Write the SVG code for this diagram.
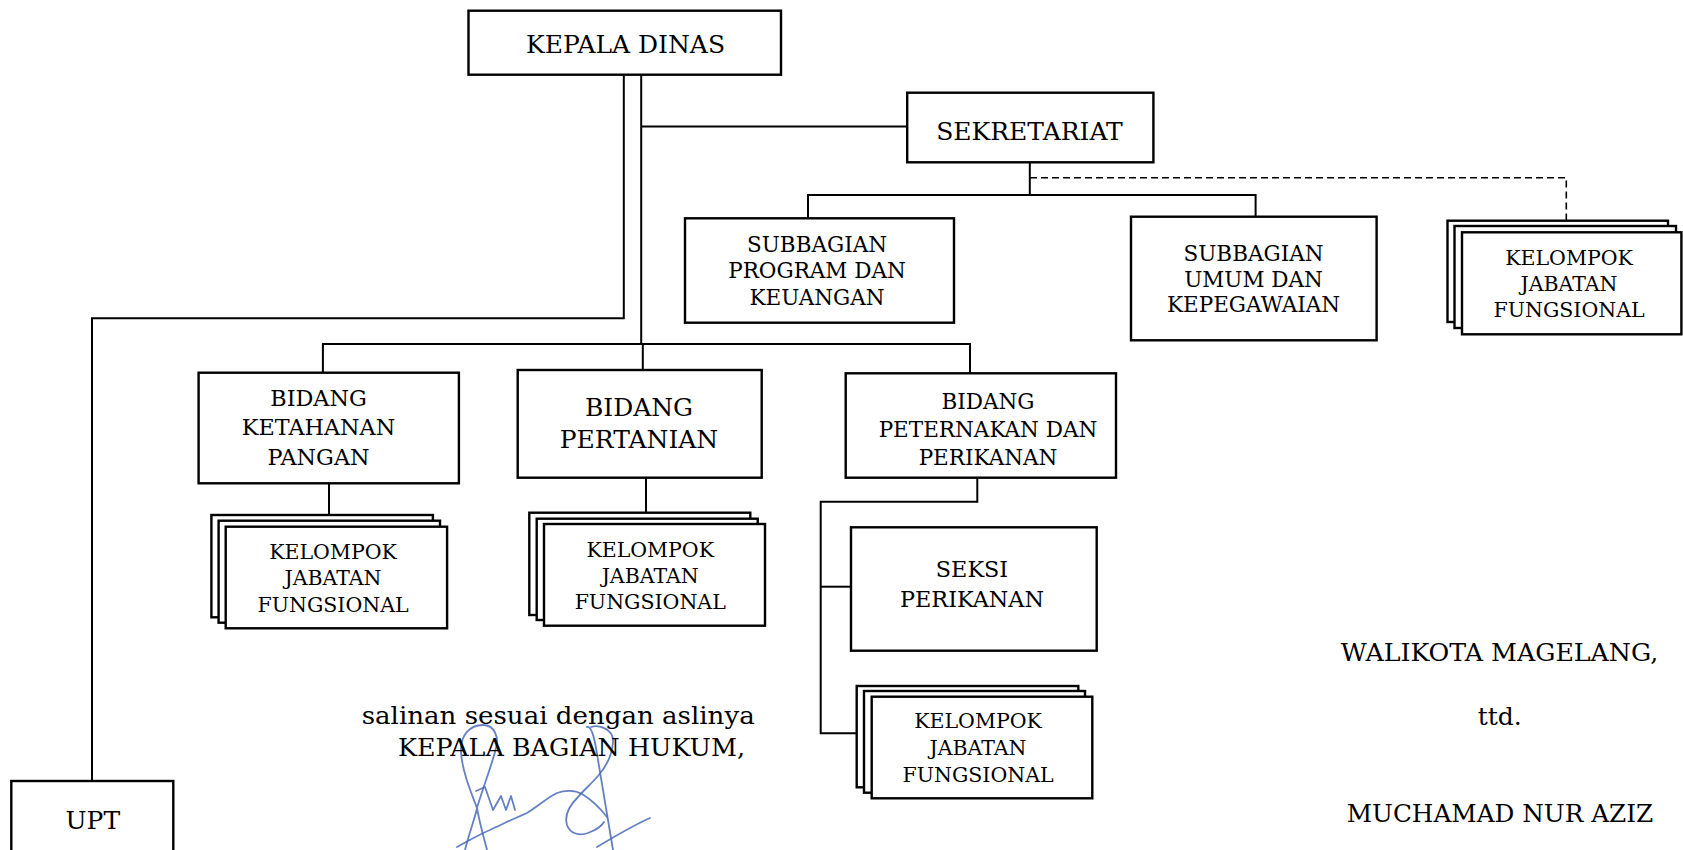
<svg xmlns="http://www.w3.org/2000/svg" width="1683" height="850" viewBox="0 0 1683 850">
<style>
.box{fill:#fff;stroke:#000;stroke-width:2.4}
.ln{fill:none;stroke:#000;stroke-width:2}
.dash{fill:none;stroke:#000;stroke-width:1.6;stroke-dasharray:7,4}
text{font-family:"DejaVu Serif","Liberation Serif",serif;fill:#000;text-anchor:middle}
.t24{font-size:25px}
.t22{font-size:22.3px}
.t21{font-size:21.5px}
.t20{font-size:20.5px}
.ft{font-size:25px;text-anchor:start}
.sig{fill:none;stroke:#4a6ab8;stroke-width:1.8;stroke-linecap:round;stroke-linejoin:round;opacity:0.85}
</style>
<rect width="1683" height="850" fill="#fff"/>
<g id="connectors">
<path class="ln" d="M623.8 74.7 V318.3 H92 V781"/>
<path class="ln" d="M641.2 74.7 V344"/>
<path class="ln" d="M641.2 126.5 H907"/>
<path class="ln" d="M1029.8 162.3 V195"/>
<path class="ln" d="M808 218.3 V195 H1255.6 V216.7"/>
<path class="dash" d="M1030 177.7 H1566.3 V220.7"/>
<path class="ln" d="M322.9 372.7 V344 H970 V373.3"/>
<path class="ln" d="M642.8 344 V370"/>
<path class="ln" d="M329 483.3 V515"/>
<path class="ln" d="M646 477.7 V512.7"/>
<path class="ln" d="M977.3 477.7 V501.7 H820.7 V733.3 H856.7"/>
<path class="ln" d="M820.7 586.7 H851"/>
</g>
<g id="kepala-dinas">
<rect class="box" x="468.5" y="10.7" width="312.5" height="64"/>
<text class="t24" x="625.5" y="53.3">KEPALA DINAS</text>
</g>
<g id="sekretariat">
<rect class="box" x="907.2" y="92.7" width="246.2" height="69.6"/>
<text class="t24" x="1029.5" y="140">SEKRETARIAT</text>
</g>
<g id="subbag-program">
<rect class="box" x="685" y="218.3" width="269" height="104.4"/>
<text class="t21" x="817" y="252.3">SUBBAGIAN</text>
<text class="t21" x="817" y="278.3">PROGRAM DAN</text>
<text class="t21" x="817" y="305">KEUANGAN</text>
</g>
<g id="subbag-umum">
<rect class="box" x="1131" y="216.7" width="245.6" height="123.6"/>
<text class="t21" x="1253.5" y="261">SUBBAGIAN</text>
<text class="t21" x="1253.5" y="286.5">UMUM DAN</text>
<text class="t21" x="1253.5" y="312">KEPEGAWAIAN</text>
</g>
<g id="kjf-sekretariat">
<rect class="box" x="1447.5" y="220.7" width="220.5" height="101.3"/>
<rect class="box" x="1454.5" y="226" width="221.5" height="102"/>
<rect class="box" x="1462" y="232.3" width="219.4" height="102"/>
<text class="t20" x="1569" y="265">KELOMPOK</text>
<text class="t20" x="1569" y="291">JABATAN</text>
<text class="t20" x="1569" y="317">FUNGSIONAL</text>
</g>
<g id="bidang-ketahanan-pangan">
<rect class="box" x="198.6" y="372.7" width="260.3" height="110.6"/>
<text class="t22" x="318.5" y="406">BIDANG</text>
<text class="t22" x="318.5" y="435.3">KETAHANAN</text>
<text class="t22" x="318.5" y="464.7">PANGAN</text>
</g>
<g id="kjf-ketahanan-pangan">
<rect class="box" x="211.4" y="515" width="221.5" height="102.3"/>
<rect class="box" x="218.6" y="520.7" width="221.4" height="102"/>
<rect class="box" x="225.7" y="526.7" width="221.4" height="101.6"/>
<text class="t20" x="333" y="559.3">KELOMPOK</text>
<text class="t20" x="333" y="585.3">JABATAN</text>
<text class="t20" x="333" y="612">FUNGSIONAL</text>
</g>
<g id="bidang-pertanian">
<rect class="box" x="517.7" y="370" width="244" height="107.7"/>
<text class="t24" x="639" y="416">BIDANG</text>
<text class="t24" x="639" y="448.3">PERTANIAN</text>
</g>
<g id="kjf-pertanian">
<rect class="box" x="529.3" y="512.7" width="221" height="102.3"/>
<rect class="box" x="536.7" y="518.7" width="221" height="101.3"/>
<rect class="box" x="544" y="524" width="221" height="101.7"/>
<text class="t20" x="650.2" y="556.7">KELOMPOK</text>
<text class="t20" x="650.2" y="582.5">JABATAN</text>
<text class="t20" x="650.2" y="609.3">FUNGSIONAL</text>
</g>
<g id="bidang-peternakan-perikanan">
<rect class="box" x="845.7" y="373.3" width="270.3" height="104.4"/>
<text class="t21" x="988" y="409.3">BIDANG</text>
<text class="t21" x="988" y="436.7">PETERNAKAN DAN</text>
<text class="t21" x="988" y="464.7">PERIKANAN</text>
</g>
<g id="seksi-perikanan">
<rect class="box" x="851" y="527.3" width="245.7" height="123.4"/>
<text class="t22" x="972" y="576.7">SEKSI</text>
<text class="t22" x="972" y="606.7">PERIKANAN</text>
</g>
<g id="kjf-peternakan-perikanan">
<rect class="box" x="856.7" y="686" width="221.6" height="101.3"/>
<rect class="box" x="864" y="691" width="221" height="101.7"/>
<rect class="box" x="871.7" y="696.7" width="220.6" height="101.6"/>
<text class="t20" x="978" y="728.3">KELOMPOK</text>
<text class="t20" x="978" y="755">JABATAN</text>
<text class="t20" x="978" y="781.7">FUNGSIONAL</text>
</g>
<g id="upt">
<rect class="box" x="11.3" y="781" width="162" height="80"/>
<text class="t24" x="92.8" y="829">UPT</text>
</g>
<g id="signature">
<path class="sig" d="M465 850 C470 830 476 815 477 808 C470 790 462 770 461 752 C460 735 470 725 483 725 C495 725 499 738 496 748 C492 765 482 790 477 808 C480 825 484 838 487 850"/>
<path class="sig" d="M476 791 L485 787 L493 810 L501 796 L506 810 L511 796 L515 810"/>
<path class="sig" d="M457 847 C470 840 480 834 490 830 C505 823 515 818 527 813 C540 805 548 797 557 793 C565 790 575 790 582 794 C592 800 600 808 607 817"/>
<path class="sig" d="M591 727 C600 724 614 730 613 742 C612 756 605 768 598 776 C590 785 584 790 578 797 C570 805 564 815 567 825 C570 834 580 836 588 833 C596 830 601 827 604 822"/>
<path class="sig" d="M587 727 C592 726 595 740 598 760 C602 785 607 815 613 850"/>
<path class="sig" d="M597 847 C612 838 632 826 650 818"/>
</g>
<g id="footer">
<text class="ft" x="361.7" y="723.5" textLength="393" lengthAdjust="spacingAndGlyphs">salinan sesuai dengan aslinya</text>
<text class="ft" x="398" y="755.5" textLength="347" lengthAdjust="spacingAndGlyphs">KEPALA BAGIAN HUKUM,</text>
<text class="ft" x="1340.7" y="661" textLength="317.6" lengthAdjust="spacingAndGlyphs">WALIKOTA MAGELANG,</text>
<text class="ft" x="1477.7" y="725">ttd.</text>
<text class="ft" x="1346.7" y="821.7" textLength="306.6" lengthAdjust="spacingAndGlyphs">MUCHAMAD NUR AZIZ</text>
</g>
</svg>
